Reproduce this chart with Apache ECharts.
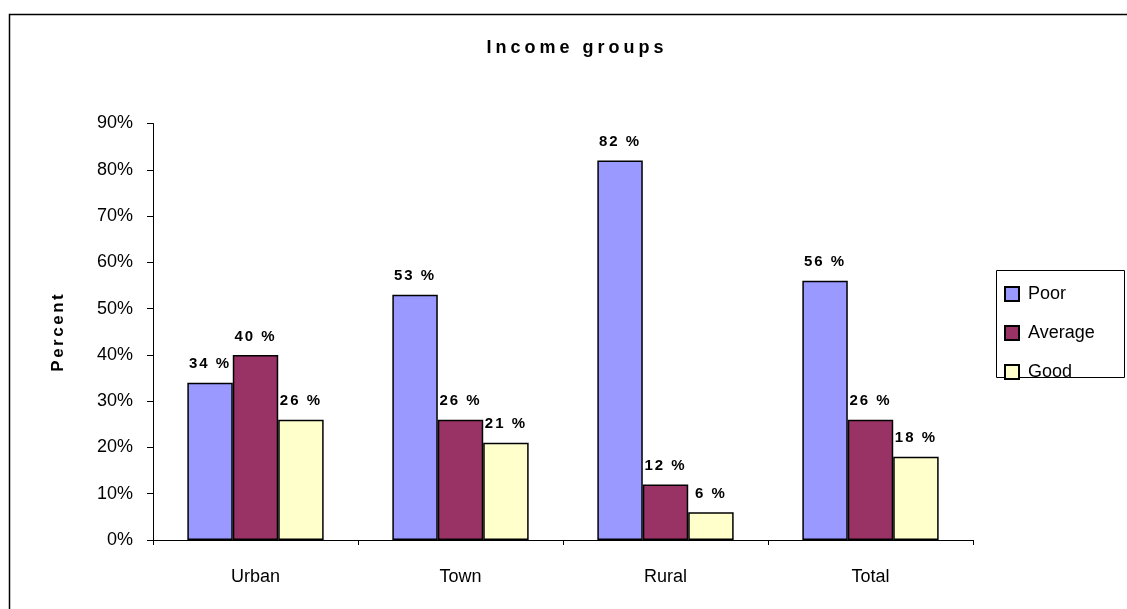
<!DOCTYPE html>
<html>
<head>
<meta charset="utf-8">
<script src="https://cdn.jsdelivr.net/npm/echarts@6/dist/echarts.min.js"></script>
<style>
  html, body { margin: 0; padding: 0; background: #fff; }
  #chart { width: 1127px; height: 609px; }
</style>
</head>
<body>
<div id="chart"></div>
<script>
// Income group shares by settlement type (percent)
const categories = ['Urban', 'Town', 'Rural', 'Total'];
const poor = [34, 53, 82, 56];
const average = [40, 26, 12, 26];
const good = [26, 21, 6, 18];
const yTicks = [0, 10, 20, 30, 40, 50, 60, 70, 80, 90];

// Spaced-out lettering for the bold texts (title, value labels, axis name)
const baseFillText = CanvasRenderingContext2D.prototype.fillText;
CanvasRenderingContext2D.prototype.fillText = function (text, x, y, maxWidth) {
  const f = this.font || '';
  let spacing = '0px';
  if (/bold|700/.test(f)) {
    if (/18px/.test(f)) spacing = '4px';
    else if (/17px/.test(f)) spacing = '2.5px';
    else if (/15px/.test(f)) spacing = '2px';
  }
  if ('letterSpacing' in this) this.letterSpacing = spacing;
  return maxWidth === undefined
    ? baseFillText.call(this, text, x, y)
    : baseFillText.call(this, text, x, y, maxWidth);
};

const chart = echarts.init(document.getElementById('chart'), null, { renderer: 'canvas' });

const FONT = 'Liberation Sans, Arial, sans-serif';

function barSeries(name, data, color) {
  return {
    name: name,
    type: 'bar',
    data: data,
    barGap: '0%',
    barCategoryGap: '33.5%',
    itemStyle: { color: color, borderColor: '#000', borderWidth: 1.5 },
    label: {
      show: true,
      position: 'top',
      distance: 11,
      formatter: p => p.value + ' %',
      fontFamily: FONT,
      fontWeight: 'bold',
      fontSize: 15,
      color: '#000'
    },
    emphasis: { disabled: true }
  };
}

chart.setOption({
  animation: false,
  backgroundColor: '#fff',
  title: {
    text: 'Income groups',
    left: 572,
    top: 34,
    textAlign: 'center',
    textStyle: { fontFamily: FONT, fontWeight: 'bold', fontSize: 18, color: '#000' }
  },
  legend: {
    orient: 'vertical',
    left: 999,
    top: 280,
    itemWidth: 14,
    itemHeight: 14,
    itemGap: 21,
    icon: 'rect',
    itemStyle: { borderColor: '#000', borderWidth: 2 },
    textStyle: { fontFamily: FONT, fontSize: 18, color: '#000', padding: [0, 0, 0, 4] },
    data: ['Poor', 'Average', 'Good']
  },
  grid: { left: 153, right: 154, top: 123.5, bottom: 69, containLabel: false },
  xAxis: {
    type: 'category',
    data: categories,
    axisLine: { lineStyle: { color: '#000', width: 1 } },
    axisTick: { show: true, length: 5, lineStyle: { color: '#000' } },
    axisLabel: { fontFamily: FONT, fontSize: 18, color: '#000', margin: 28 }
  },
  yAxis: {
    type: 'value',
    min: yTicks[0],
    max: yTicks[yTicks.length - 1],
    interval: 10,
    name: 'Percent',
    nameLocation: 'middle',
    nameGap: 86,
    nameTextStyle: { fontFamily: FONT, fontWeight: 'bold', fontSize: 17, color: '#000' },
    axisLine: { show: true, lineStyle: { color: '#000', width: 1 } },
    axisTick: { show: true, length: 6, lineStyle: { color: '#000' } },
    axisLabel: { fontFamily: FONT, fontSize: 18, color: '#000', margin: 20, formatter: v => v + '%' },
    splitLine: { show: false }
  },
  graphic: [
    {
      type: 'rect',
      shape: { x: 9.5, y: 14.5, width: 1300, height: 800 },
      style: { fill: 'none', stroke: '#000', lineWidth: 1.5 },
      silent: true,
      z: 0
    },
    {
      type: 'rect',
      shape: { x: 996.5, y: 270.5, width: 128, height: 107 },
      style: { fill: 'none', stroke: '#000', lineWidth: 1 },
      silent: true,
      z: 0
    }
  ],
  series: [
    barSeries('Poor', poor, '#9999FF'),
    barSeries('Average', average, '#993366'),
    barSeries('Good', good, '#FFFFCC')
  ]
});
</script>
</body>
</html>
